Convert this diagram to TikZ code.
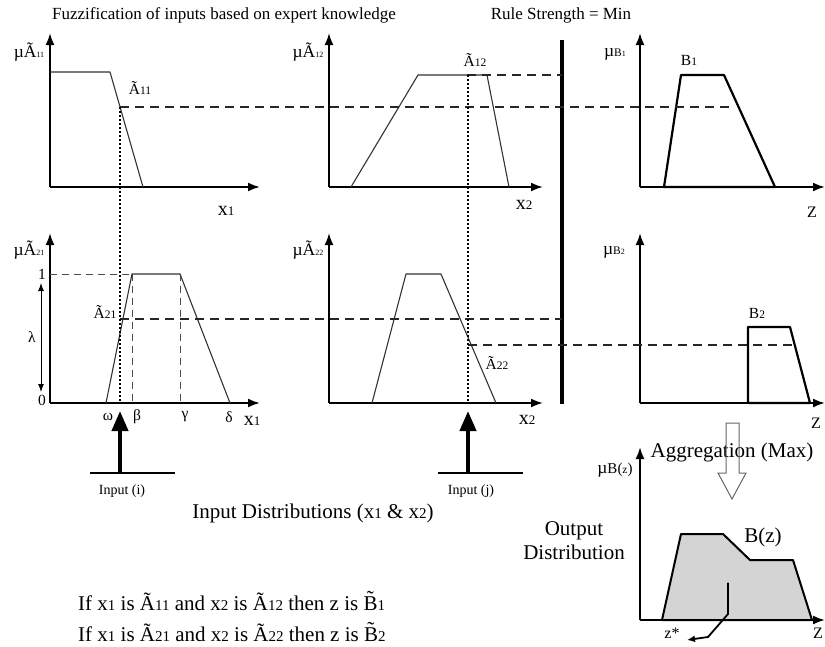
\documentclass[tikz,border=0pt]{standalone}
\usepackage{fontspec}
\setmainfont{Liberation Serif}
\usetikzlibrary{arrows.meta}
\newcommand\sbs[1]{{\fontsize{8}{8}\selectfont #1}}
\newcommand\smsub[1]{{\fontsize{11.5}{11.5}\selectfont #1}}
\newcommand\bgsub[1]{{\fontsize{15}{15}\selectfont #1}}
\newcommand\axsub[1]{{\fontsize{13}{13}\selectfont #1}}
\begin{document}
\begin{tikzpicture}[x=1pt,y=-1pt,
  axis/.style={line width=2pt,-{Latex[length=12pt,width=9pt]}},
  thinmf/.style={line width=1.1pt,draw=black!80,line join=round},
  thickmf/.style={line width=2.2pt,line join=round},
  dline/.style={dash pattern=on 9pt off 6pt,line width=1.3pt,draw=black!85},
  tdline/.style={dash pattern=on 7pt off 5pt,line width=1pt,draw=black!70},
  dotline/.style={line width=2.2pt,dash pattern=on 2pt off 2pt},
  lab/.style={font=\fontsize{15.5}{15.5}\selectfont,inner sep=0pt},
  axlab/.style={font=\fontsize{20}{20}\selectfont,inner sep=0pt},
  zlab/.style={font=\fontsize{16}{16}\selectfont,inner sep=0pt},
  mulab/.style={font=\fontsize{17.5}{17.5}\selectfont,inner sep=0pt},
  head/.style={font=\fontsize{17}{17}\selectfont,inner sep=0pt},
  big/.style={font=\fontsize{21}{24}\selectfont,inner sep=0pt},
  small/.style={font=\fontsize{14}{14}\selectfont,inner sep=0pt},
  inarrow/.style={line width=4pt,-{Triangle[length=20pt,width=16pt]}},
  bar/.style={line width=2.5pt}]
\useasboundingbox (0,0) rectangle (825,646);

% headers
\node[head] (h1) at (224,15) {Fuzzification of inputs based on expert knowledge};
\node[head] (h2) at (561,15) {Rule Strength = Min};

% rule line
\draw[line width=3.5pt] (562,40) -- (562,404);

% ---------- panel A11 ----------
\draw[axis] (50,187) -- (50,33);
\draw[axis] (50,187) -- (260,187);
\draw[thinmf] (50,72) -- (110,72) -- (143,187);
\node[mulab] (mu11) at (29,52) {µÃ\sbs{11}};
\node[lab] (a11) at (140,88) {Ã\smsub{11}};
\node[axlab] (x1a) at (226,211) {x\axsub{1}};

% ---------- panel A12 ----------
\draw[axis] (329,187) -- (329,33);
\draw[axis] (329,187) -- (543,187);
\draw[thinmf] (351,187) -- (418,75) -- (487,75) -- (509,187);
\node[mulab] (mu12) at (308,52) {µÃ\sbs{12}};
\node[lab] (a12) at (475,60) {Ã\smsub{12}};
\node[axlab] (x2a) at (524,205) {x\axsub{2}};

% ---------- panel B1 ----------
\draw[axis] (640,187) -- (640,33);
\draw[axis] (640,187) -- (825,187);
\draw[thickmf] (664,187) -- (681,75) -- (724,75) -- (775,187) -- cycle;
\node[mulab] (mub1) at (615,54) {µ\smsub{B}\sbs{1}};
\node[lab] (b1) at (689,60) {B\smsub{1}};
\node[zlab] (za) at (812,212) {Z};

% ---------- panel A21 ----------
\draw[axis] (50,403) -- (50,233);
\draw[axis] (50,403) -- (260,403);
\draw[tdline] (50,274) -- (132,274);
\draw[tdline] (132,274) -- (132,403);
\draw[tdline] (180,274) -- (180,403);
\draw[thinmf] (106,403) -- (132,274) -- (180,274) -- (230,403);
\draw[line width=1pt,{Latex[length=8pt,width=6pt]}-{Latex[length=8pt,width=6pt]}] (41,283) -- (41,392);
\node[lab] (one) at (42,274) {1};
\node[lab] (zero) at (42,400) {0};
\node[lab] (lam) at (32,337) {λ};
\node[mulab] (mu21) at (29,250) {µÃ\sbs{21}};
\node[lab] (a21) at (105,312) {Ã\smsub{21}};
\node[lab] (om) at (108,417) {ω};
\node[lab] (be) at (137,417) {β};
\node[lab] (ga) at (185,417) {γ};
\node[lab] (de) at (229,417) {δ};
\node[axlab] (x1b) at (252,421) {x\axsub{1}};

% ---------- panel A22 ----------
\draw[axis] (329,403) -- (329,233);
\draw[axis] (329,403) -- (543,403);
\draw[thinmf] (372,403) -- (406,274) -- (441,274) -- (496,403);
\node[mulab] (mu22) at (308,250) {µÃ\sbs{22}};
\node[lab] (a22) at (497,363) {Ã\smsub{22}};
\node[axlab] (x2b) at (527,420) {x\axsub{2}};

% ---------- panel B2 ----------
\draw[axis] (640,403) -- (640,233);
\draw[axis] (640,403) -- (825,403);
\draw[thickmf] (748,403) -- (748,327) -- (790,327) -- (810,403) -- cycle;
\node[mulab] (mub2) at (614,252) {µ\smsub{B}\sbs{2}};
\node[lab] (b2) at (757,313) {B\smsub{2}};
\node[zlab] (zb) at (816,423) {Z};

% ---------- dashed strength lines ----------
\draw[dline] (120,107) -- (733,107);
\draw[dline] (467,75) -- (562,75);
\draw[dline] (120,319) -- (562,319);
\draw[dline] (468,345) -- (793,345);

% ---------- dotted input lines ----------
\draw[dotline] (120,107) -- (120,403);
\draw[dotline] (468,75) -- (468,403);

% ---------- inputs ----------
\coordinate (ib) at (120,473);
\coordinate (it) at (120,411);
\draw[bar] (90,473) -- (175,473);
\draw[inarrow] (ib) -- (it);
\node[small] (ini) at (122,491) {Input (i)};
\coordinate (jb) at (468,473);
\coordinate (jt) at (468,411);
\draw[bar] (438,473) -- (523,473);
\draw[inarrow] (jb) -- (jt);
\node[small] (inj) at (471,491) {Input (j)};

\node[big] (idist) at (313,513) {Input Distributions (x\bgsub{1} \& x\bgsub{2})};

% ---------- aggregation ----------
\node[big] (agg) at (732,452) {Aggregation (Max)};
\draw[line width=1pt,draw=black!60]
  (726,423) -- (739,423) -- (739,473) -- (746,473) -- (732,499) -- (718,473) -- (726,473) -- cycle;

% ---------- output panel ----------
\draw[fill=black!17,line width=2pt,line join=round]
  (662,620) -- (681,534) -- (723,534) -- (750,560) -- (793,560) -- (812,620) -- cycle;
\draw[axis] (640,620) -- (640,447);
\draw[axis] (640,620) -- (825,620);
\node[mulab] (mubz) at (615,470) {µ\bgsub{B(}\smsub{z}\bgsub{)}};
\node[big] (bz) at (763,537) {B(z)};
\node[big,align=center] (od) at (574,541) {Output\\Distribution};
\node[zlab] (zs) at (672,633) {z*};
\node[zlab] (zc) at (818,633) {Z};
\coordinate (cg) at (728,583);
\fill[black!70] (cg) circle (1pt);
\draw[line width=1.8pt,-{Latex[length=8pt,width=7pt]}] (cg) -- (728,614) -- (708,637) -- (687,640);

% ---------- rules ----------
\node[big,anchor=west] (r1) at (78,601) {If x\bgsub{1} is Ã\bgsub{11} and x\bgsub{2} is Ã\bgsub{12} then z is B̃\bgsub{1}};
\node[big,anchor=west] (r2) at (78,632) {If x\bgsub{1} is Ã\bgsub{21} and x\bgsub{2} is Ã\bgsub{22} then z is B̃\bgsub{2}};
\end{tikzpicture}
\end{document}
